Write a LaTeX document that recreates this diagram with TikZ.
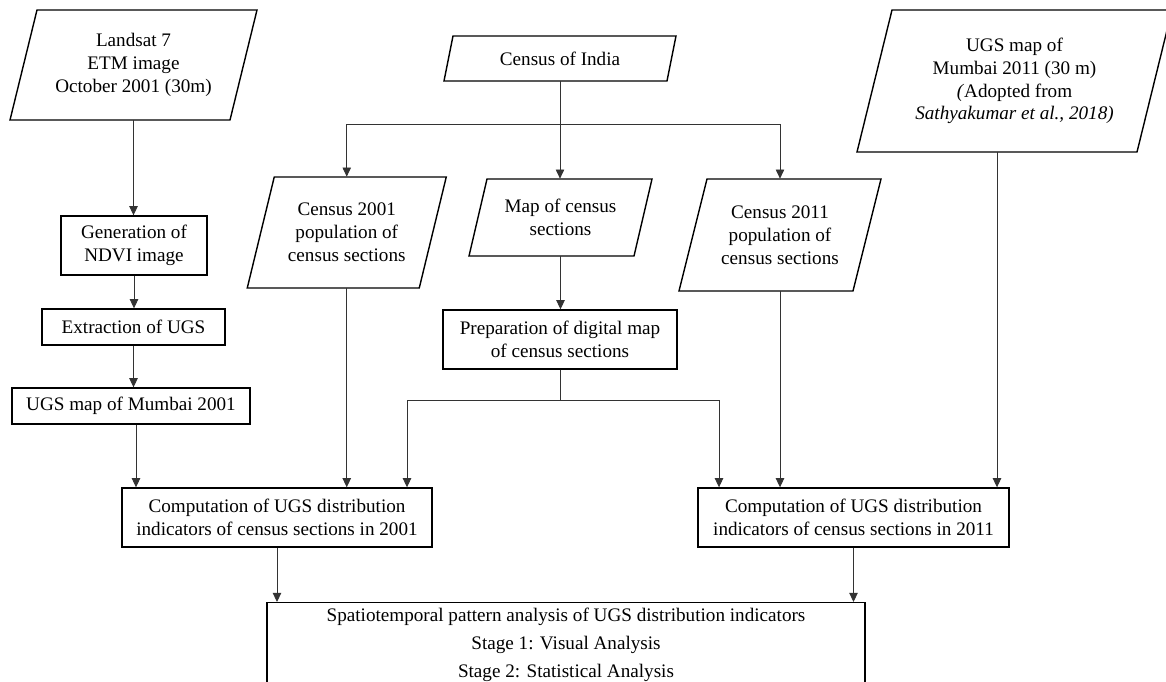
\documentclass[tikz,border=0pt]{standalone}
\usepackage{fontspec}
\setmainfont{Liberation Serif}
\usetikzlibrary{arrows.meta,calc}
\newcommand\fs{\fontsize{10.9}{13}\selectfont}
\newcommand\fsb{\fontsize{10.9}{15.8}\selectfont}
\newcommand\para[7]{%
  \draw[outl] ({#2-#4/2+#6/2},{#3-#5/2}) -- ({#2+#4/2+#6/2},{#3-#5/2}) -- ({#2+#4/2-#6/2},{#3+#5/2}) -- ({#2-#4/2-#6/2},{#3+#5/2}) -- cycle;
  \node[lbl, minimum width=#4*0.02cm, minimum height=#5*0.02cm] (#1) at (#2,#3) {#7};}
\begin{document}
\begin{tikzpicture}[x=0.02cm,y=-0.02cm,
  outl/.style={line width=0.8pt, line join=miter},
  box/.style={draw, line width=0.8pt, align=center, inner sep=0pt, font=\fs},
  lbl/.style={align=center, inner sep=0pt, font=\fs},
  arr/.style={-{Triangle[width=4.8pt,length=5.2pt]}, line width=0.5pt, black!80},
  ln/.style={line width=0.5pt, black!80}]
\clip (0,0) rectangle (1166,681);
\fill[white] (0,0) rectangle (1166,681);
% input parallelograms
\para{landsat}{133.5}{65}{220}{110}{27}{Landsat 7\\ETM image\\October 2001 (30m)}
\para{india}{560}{58.5}{223}{45}{9}{Census of India}
\para{c01}{346.75}{232.5}{172}{111}{27}{Census 2001\\population of\\census sections}
\para{map}{560.5}{217.5}{165}{77}{18}{Map of census\\sections}
\para{c11}{780}{235}{174}{112}{28}{Census 2011\\population of\\census sections}
\para{ugs11}{1014.5}{81}{280}{142}{35}{UGS map of\\Mumbai 2011 (30 m)\\\textit{(}Adopted from\\\textit{Sathyakumar et al., 2018)}}
% process boxes
\node[box, minimum width=146*0.02cm, minimum height=59*0.02cm] (gen) at (134,245.5) {Generation of\\NDVI image};
\node[box, minimum width=183*0.02cm, minimum height=36*0.02cm] (extr) at (133.5,327) {Extraction of UGS};
\node[box, minimum width=238*0.02cm, minimum height=36*0.02cm] (u01) at (131,406) {UGS map of Mumbai 2001};
\node[box, minimum width=234*0.02cm, minimum height=59*0.02cm] (prep) at (560,339.5) {Preparation of digital map\\of census sections};
\node[box, minimum width=310*0.02cm, minimum height=59*0.02cm] (comp01) at (277,517.5) {Computation of UGS distribution\\indicators of census sections in 2001};
\node[box, minimum width=311*0.02cm, minimum height=59*0.02cm] (comp11) at (853.5,517.5) {Computation of UGS distribution\\indicators of census sections in 2011};
\node[box, minimum width=598*0.02cm, minimum height=118*0.02cm, anchor=north] (final) at (566,602) {};
\node[lbl, font=\fsb, anchor=north] (finaltxt) at (566,608) {Spatiotemporal pattern analysis of UGS distribution indicators\\Stage 1: Visual Analysis\\Stage 2: Statistical Analysis};
% helper coordinates
\coordinate (x136) at (136,0);
\coordinate (x407) at (407,0);
\coordinate (x719) at (719,0);
\coordinate (x997) at (997,0);
\coordinate (hb) at (560,124);
\coordinate (pb) at (560,400);
% connectors
\draw[arr] (landsat.south) -- (landsat.south |- gen.north);
\draw[arr] (gen.south) -- (gen.south |- extr.north);
\draw[arr] (extr.south) -- (extr.south |- u01.north);
\draw[arr] (u01.south -| x136) -- (x136 |- comp01.north);
\draw[ln] (india.south) -- (hb);
\draw[arr] (hb) -| (c01.north);
\draw[arr] (hb) -| (c11.north);
\draw[arr] (hb) -- (hb |- map.north);
\draw[arr] (map.south) -- (map.south |- prep.north);
\draw[arr] (c01.south) -- (c01.south |- comp01.north);
\draw[ln] (prep.south) -- (pb);
\draw[arr] (pb) -| (x407 |- comp01.north);
\draw[arr] (pb) -| (x719 |- comp11.north);
\draw[arr] (c11.south) -- (c11.south |- comp11.north);
\draw[arr] (x997 |- ugs11.south) -- (x997 |- comp11.north);
\draw[arr] (comp01.south) -- (comp01.south |- final.north);
\draw[arr] (comp11.south) -- (comp11.south |- final.north);
\end{tikzpicture}
\end{document}
